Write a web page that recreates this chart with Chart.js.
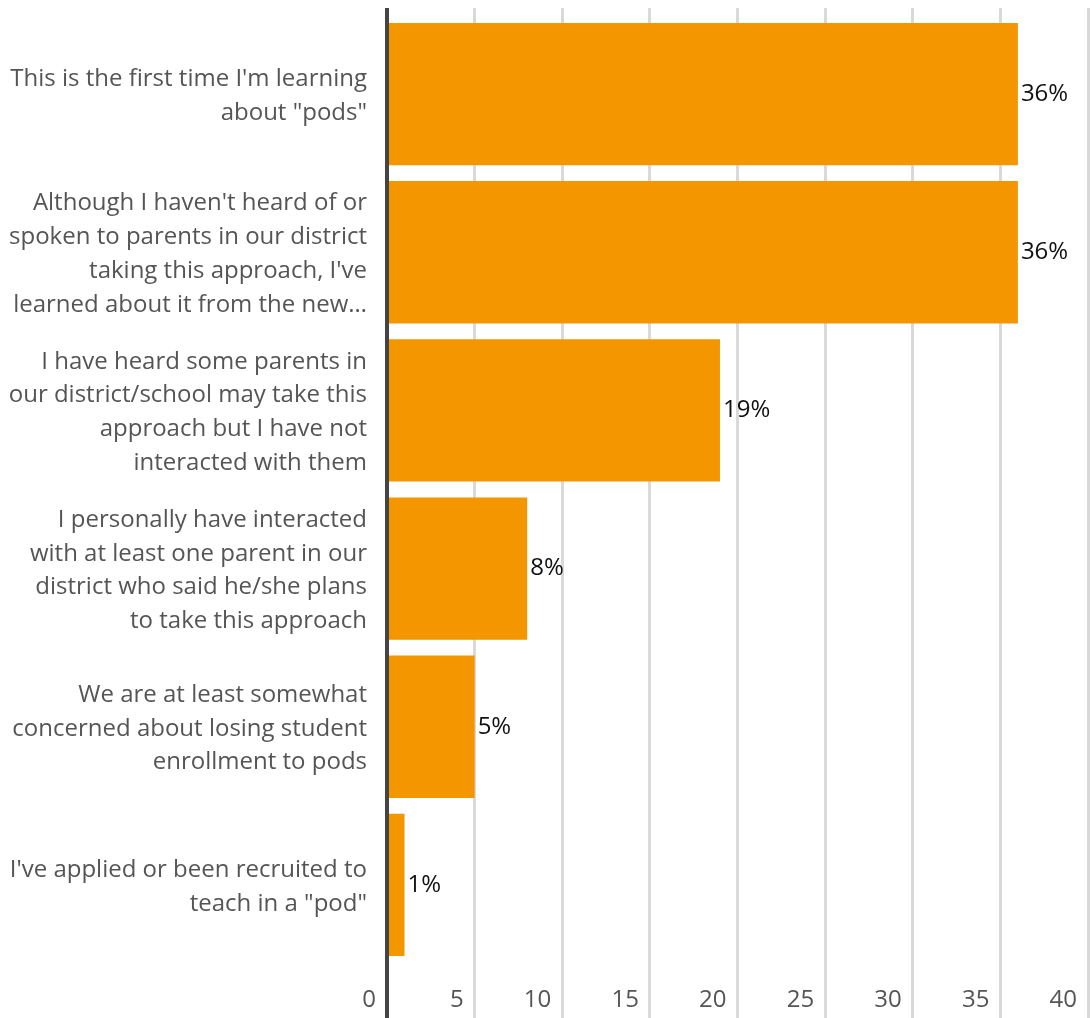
<!DOCTYPE html>
<html>
<head>
<meta charset="utf-8">
<script src="https://cdn.jsdelivr.net/npm/chart.js@4"></script>
<style>
  html, body { margin: 0; padding: 0; background: #fff; }
  #wrap { width: 1091px; height: 1018px; position: relative; }
</style>
</head>
<body>
<div id="wrap"><canvas id="podsChart"></canvas></div>
<script>
// Survey answers (multi-line labels) and the share of respondents, in percent
const answers = [
  ["This is the first time I'm learning", "about \"pods\""],
  ["Although I haven't heard of or", "spoken to parents in our district", "taking this approach, I've", "learned about it from the new\u2026"],
  ["I have heard some parents in", "our district/school may take this", "approach but I have not", "interacted with them"],
  ["I personally have interacted", "with at least one parent in our", "district who said he/she plans", "to take this approach"],
  ["We are at least somewhat", "concerned about losing student", "enrollment to pods"],
  ["I've applied or been recruited to", "teach in a \"pod\""]
];
const shares = [36, 36, 19, 8, 5, 1];
const axisMax = 40;
const axisStep = 5;

const ORANGE = '#f39600';
const ZERO_LINE = '#444444';
const GRID = '#d9d9d9';

function gridColor(ctx) {
  return ctx.tick && ctx.tick.value === 0 ? ZERO_LINE : GRID;
}
function gridWidth(ctx) {
  return ctx.tick && ctx.tick.value === 0 ? 4 : 3;
}

// writes "NN%" just past the end of every bar
const valueLabels = {
  id: 'valueLabels',
  afterDatasetsDraw(chart) {
    const ctx = chart.ctx;
    const meta = chart.getDatasetMeta(0);
    ctx.save();
    ctx.font = '24px "Open Sans"';
    ctx.fillStyle = '#111';
    ctx.textAlign = 'left';
    ctx.textBaseline = 'middle';
    meta.data.forEach(function(bar, i) {
      ctx.fillText(shares[i] + '%', bar.x + 3, bar.y);
    });
    ctx.restore();
  }
};

document.addEventListener('DOMContentLoaded', function() {
  const ctx = document.getElementById('podsChart').getContext('2d');
  new Chart(ctx, {
    type: 'bar',
    data: {
      labels: answers,
      datasets: [{
        data: shares,
        backgroundColor: ORANGE,
        borderWidth: 0,
        categoryPercentage: 0.9,
        barPercentage: 1
      }]
    },
    options: {
      indexAxis: 'y',
      responsive: true,
      maintainAspectRatio: false,
      animation: false,
      layout: { padding: { top: 8, right: 3, bottom: 0, left: 0 } },
      plugins: {
        legend: { display: false },
        tooltip: { enabled: false }
      },
      scales: {
        x: {
          position: 'bottom',
          min: 0,
          max: axisMax,
          border: { display: false },
          grid: {
            color: gridColor,
            lineWidth: gridWidth,
            tickLength: 54
          },
          ticks: {
            stepSize: axisStep,
            align: 'end',
            labelOffset: -11,
            padding: -32,
            color: '#555',
            font: { family: 'Open Sans', size: 24 }
          },
          // gridlines run to the bottom edge, numbers sit beside them
          afterFit: function(scale) {
            scale.height = 54;
          }
        },
        xTop: {
          type: 'linear',
          position: 'top',
          min: 0,
          max: axisMax,
          border: { display: false },
          grid: {
            drawOnChartArea: false,
            color: gridColor,
            lineWidth: gridWidth,
            tickLength: 7
          },
          ticks: { display: false, stepSize: axisStep }
        },
        y: {
          z: 1,
          border: { display: true, color: ZERO_LINE, width: 4 },
          grid: { display: false, drawTicks: false },
          ticks: {
            padding: 20,
            labelOffset: 2,
            color: '#555',
            font: { family: 'Open Sans', size: 24, lineHeight: 1.41 }
          },
          afterFit: function(scale) {
            scale.width = 387;
            scale.paddingTop = 0;
            scale.paddingBottom = 0;
          }
        }
      }
    },
    plugins: [valueLabels]
  });
});
</script>
</body>
</html>
